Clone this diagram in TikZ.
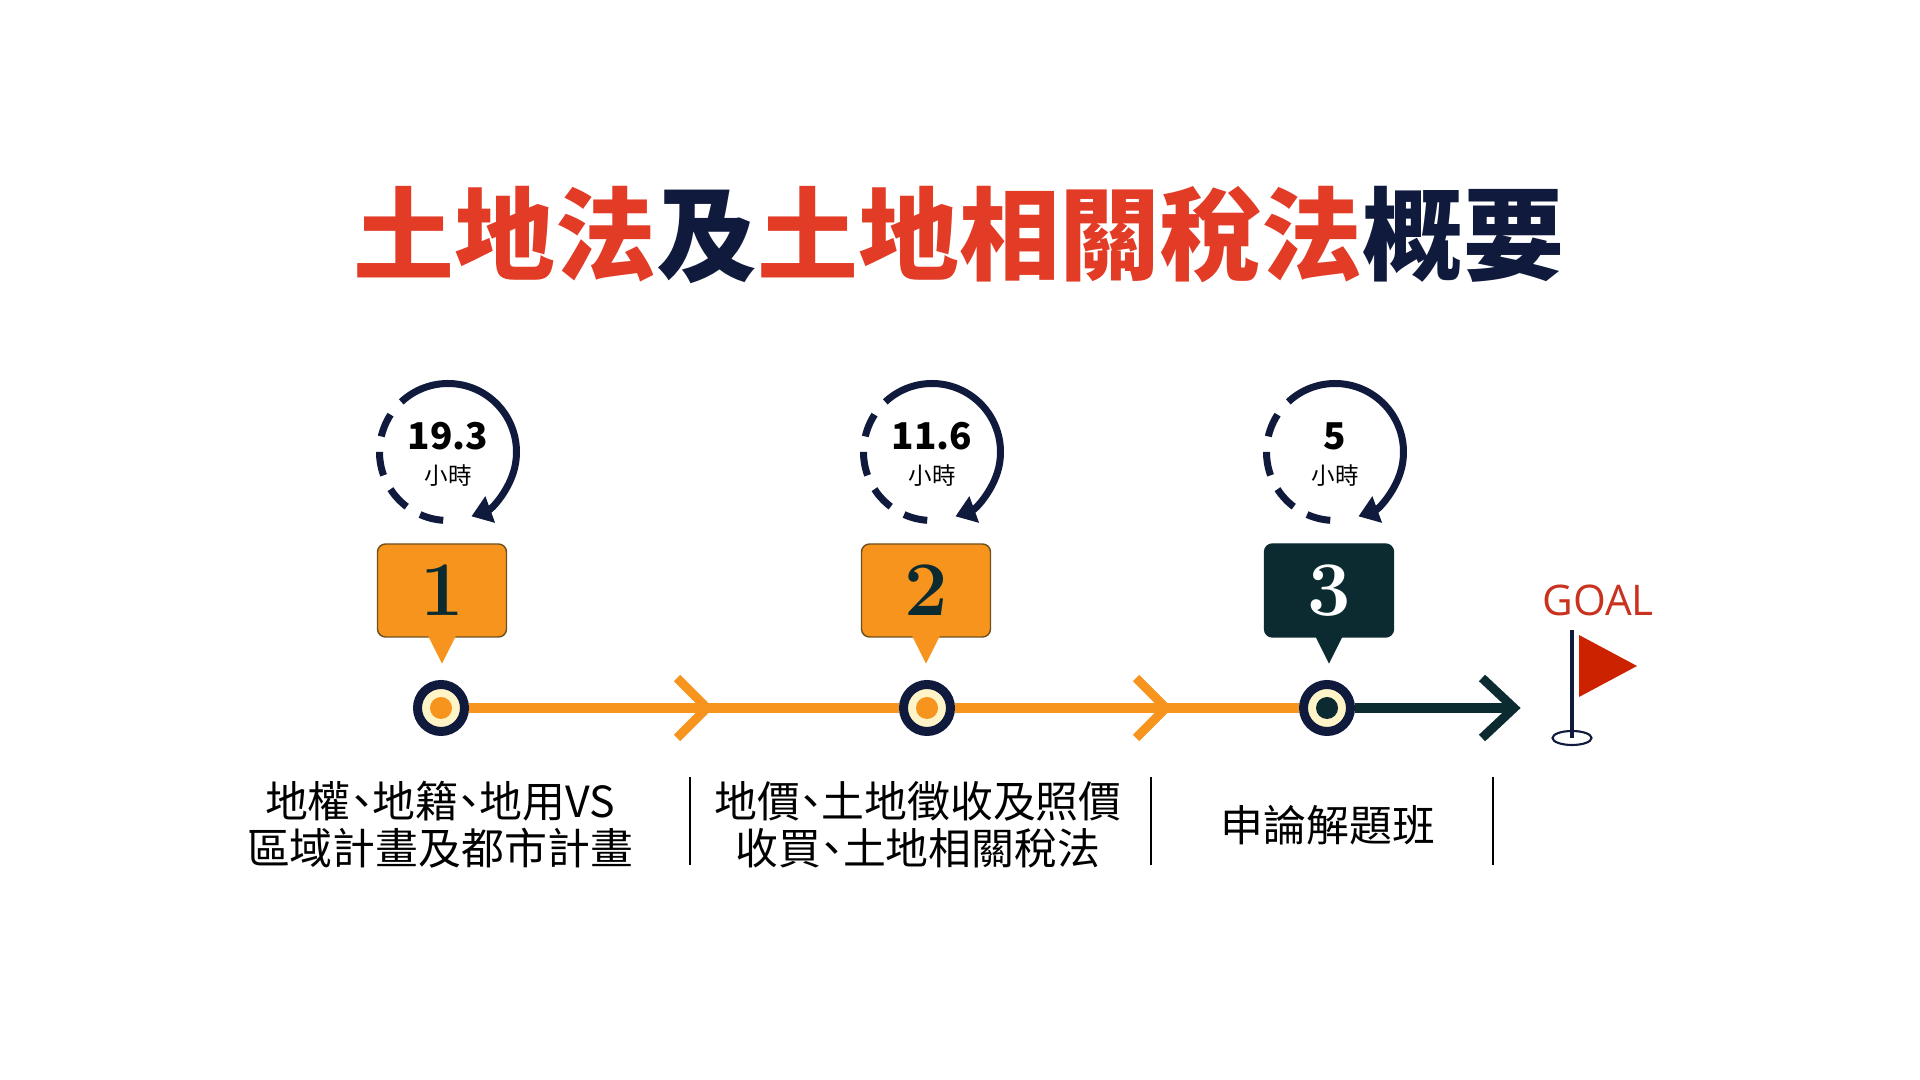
\documentclass[tikz,border=0pt]{standalone}
\usepackage{fontspec}
\newfontfamily\cjk{Noto Sans CJK TC}
\newfontfamily\cjknoir{Noto Sans CJK TC Black}
\newfontfamily\latin{Open Sans}
\usepackage{tikz}
\usetikzlibrary{arrows.meta,positioning,calc,shapes}
\definecolor{rouge}{RGB}{226,59,38}
\definecolor{marine}{RGB}{16,26,60}
\definecolor{orangeb}{RGB}{247,148,29}
\definecolor{sapin}{RGB}{11,43,48}
\definecolor{creme}{RGB}{255,244,199}
\definecolor{brun}{RGB}{110,80,30}
\definecolor{drapeau}{RGB}{204,34,0}
\definecolor{rougeg}{RGB}{200,50,30}
\newcommand\dun{\makebox[0.5em]{、}}

\begin{document}
\begin{tikzpicture}
%styles : bulles, jalons et traits de la frise
\tikzset{bulle/.style={rounded corners=0.08cm,minimum width=1.29cm,minimum height=0.93cm,inner sep=0pt,line width=0.4pt},
jalon/.style={circle,draw=marine,line width=0.09cm,fill=creme,minimum size=0.47cm,inner sep=0pt},
trait/.style={line width=0.1cm},
chevron/.style={line width=0.09cm,line join=miter},
horloge/.style={marine,line width=0.07cm},
texte/.style={font=\cjk\fontsize{12.2}{13.4}\selectfont,align=center}}
\useasboundingbox (0,0) rectangle (19.2,10.8);
\node[font=\cjknoir\fontsize{28.7}{30}\selectfont] (titre) at (9.59,8.45) {\textcolor{rouge}{土地法}\textcolor{marine}{及}\textcolor{rouge}{土地相關稅法}\textcolor{marine}{概要}};
%horloges : arc plein fléché + arc en tirets
\foreach \x/\h/\i in {4.48/19.3/1,9.32/11.6/2,13.35/5/3}{
\coordinate (c\i) at (\x,6.28);
\draw[horloge,-{Triangle[width=0.27cm,length=0.2cm]}] ($(c\i)+(133:0.685)$) arc[start angle=133,end angle=-70,radius=0.685];
\draw[horloge,dash pattern=on 0.24cm off 0.155cm] ($(c\i)+(-94:0.685)$) arc[start angle=-94,end angle=-213,radius=0.685];
\node[font=\cjk\bfseries\fontsize{10.5}{11}\selectfont] (h\i) at ($(c\i)+(0,0.16)$) {\h};
\node[font=\cjk\fontsize{6.7}{7}\selectfont] (u\i) at ($(c\i)+(0,-0.24)$) {小時};
}
%bulles numérotées
\foreach \x/\n/\f/\t/\d in {4.42/1/orangeb/sapin/brun,9.26/2/orangeb/sapin/brun,13.29/3/sapin/white/sapin}{
\node[bulle,fill=\f,draw=\d,text=\t,font=\bfseries\fontsize{22}{22}\selectfont] (b\n) at (\x,4.895) {\n};
\fill[\f] ($(b\n.south)+(-0.14,0.02)$) -- ($(b\n.south)+(0.14,0.02)$) -- ($(b\n.south)+(0,-0.26)$) -- cycle;
}
%frise
\node[jalon] (m1) at (4.41,3.72) {};
\node[jalon] (m2) at (9.27,3.72) {};
\node[jalon] (m3) at (13.27,3.72) {};
\fill[orangeb] (m1) circle (0.11);
\fill[orangeb] (m2) circle (0.11);
\fill[sapin] (m3) circle (0.11);
\coordinate (v1) at (7.07,3.72);
\coordinate (v2) at (11.66,3.72);
\coordinate (fin) at (15.14,3.72);
\draw[trait,orangeb] (m1) -- (m2) (m2) -- (m3);
\draw[trait,sapin] (m3) -- (fin);
\draw[chevron,orangeb] ($(v1)+(-0.3,0.3)$) -- (v1) -- ($(v1)+(-0.3,-0.3)$);
\draw[chevron,orangeb] ($(v2)+(-0.3,0.3)$) -- (v2) -- ($(v2)+(-0.3,-0.3)$);
\draw[chevron,sapin] ($(fin)+(-0.32,0.3)$) -- (fin) -- ($(fin)+(-0.32,-0.3)$);
%drapeau
\coordinate (pied) at (15.72,3.42);
\draw[marine,line width=0.6pt] (pied) ellipse (0.195 and 0.07);
\draw[marine,line width=0.04cm] (pied) -- ++(0,1.08);
\fill[drapeau] (15.79,4.45) -- (15.79,3.83) -- (16.37,4.14) -- cycle;
\node[font=\latin\fontsize{12}{12}\selectfont,text=rougeg] (but) at (15.98,4.80) {GOAL};
%séparateurs et textes
\foreach \x in {6.90,11.51,14.93}
\draw[line width=0.5pt] (\x,3.03) -- (\x,2.15);
\node[texte] (t1) at (4.40,2.555) {地權\dun 地籍\dun 地用VS\\區域計畫及都市計畫};
\node[texte] (t2) at (9.18,2.555) {地價\dun 土地徵收及照價\\收買\dun 土地相關稅法};
\node[texte] (t3) at (13.28,2.55) {申論解題班};
\end{tikzpicture}
\end{document}
